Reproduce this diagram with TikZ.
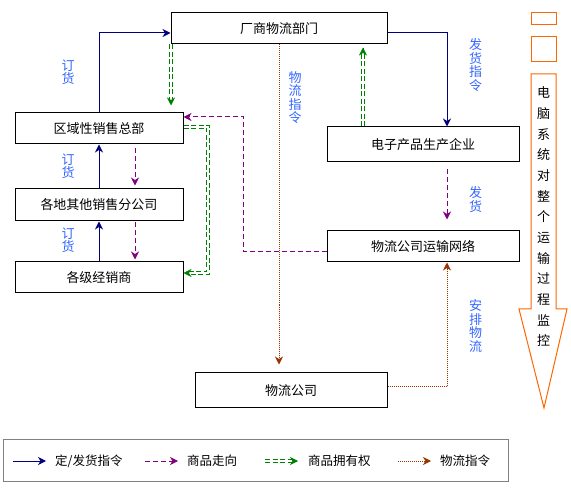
\documentclass[tikz,border=0pt]{standalone}
\usepackage{fontspec}
\setmainfont{Noto Sans CJK SC}
\usepackage{tikz}
\usetikzlibrary{arrows.meta,calc}
\usepackage{xcolor}
\definecolor{ordblue}{HTML}{000080}
\definecolor{goodpurple}{HTML}{800080}
\definecolor{owngreen}{HTML}{008000}
\definecolor{logibrown}{HTML}{993300}
\definecolor{labblue}{HTML}{3366FF}
\definecolor{monorange}{HTML}{FF6600}

\begin{document}
\begin{tikzpicture}[x=1pt,y=-1pt,
  box/.style={draw,line width=1pt,inner sep=0pt,font=\fontsize{13}{15}\selectfont},
  tag/.style={text=labblue,align=center,inner sep=0pt,font=\fontsize{13}{13.6}\selectfont},
  tip/.style={-{Stealth[length=8pt,width=8pt,inset=2.5pt]}},
  order/.style={tip,draw=ordblue,line width=1pt},
  goods/.style={tip,draw=goodpurple,line width=1pt,dash pattern=on 5pt off 3pt},
  ownline/.style={draw=owngreen,line width=0.9pt,dash pattern=on 5pt off 2.5pt},
  owntip/.style={tip,draw=owngreen,line width=0.9pt},
  logis/.style={tip,draw=logibrown,line width=1pt,dash pattern=on 1pt off 1pt}]
  \useasboundingbox (0,0) rectangle (571,497);
  % Boxes:
  \node[box,minimum width=216pt,minimum height=31pt] (hq) at (279,28.5) {厂商物流部门};
  \node[box,minimum width=168pt,minimum height=31pt] (region) at (99,128.5) {区域性销售总部};
  \node[box,minimum width=168pt,minimum height=32pt] (branch) at (99,205) {各地其他销售分公司};
  \node[box,minimum width=168pt,minimum height=31pt] (dealer) at (99,277.5) {各级经销商};
  \node[box,minimum width=192pt,minimum height=35pt] (maker) at (423,144.5) {电子产品生产企业};
  \node[box,minimum width=192pt,minimum height=31pt] (net) at (423,246.5) {物流公司运输网络};
  \node[box,minimum width=192pt,minimum height=35pt] (logi) at (291,390.5) {物流公司};
  %
  % Labels:
  \node[tag] (o1) at (68,72) {订\\货};
  \node[tag] (o2) at (68,166) {订\\货};
  \node[tag] (o3) at (68,240) {订\\货};
  \node[tag] (ld) at (295,97.5) {物\\流\\指\\令};
  \node[tag] (sd) at (475.5,65) {发\\货\\指\\令};
  \node[tag] (sh) at (475.5,199.5) {发\\货};
  \node[tag] (ar) at (475.5,326) {安\\排\\物\\流};
  %
  % Order Edges:
  \draw[order] (region.north) |- ([yshift=-4.5pt]hq.west);
  \draw[order] (branch.north) -- (region.south);
  \draw[order] (dealer.north) -- (branch.south);
  \draw[order] ([yshift=-4.5pt]hq.east) -| ([xshift=24pt]maker.north);
  % Goods Edges:
  \draw[goods,shorten <=4pt,shorten >=3pt] ([xshift=36pt]region.south) -- ([xshift=36pt]branch.north);
  \draw[goods,shorten <=1pt,shorten >=2pt] ([xshift=36pt]branch.south) -- ([xshift=36pt]dealer.north);
  \draw[goods,shorten <=7pt,shorten >=11pt] ([xshift=24pt]maker.south) -- ([xshift=24pt]net.north);
  \draw[goods] ([yshift=-5.5pt]net.west) -| ([xshift=60pt,yshift=11.5pt]region.east) -- ([yshift=11.5pt]region.east);
  % Ownership Edges (double dashed):
  \coordinate (g1) at ([xshift=0.5pt]hq.south west);
  \coordinate (g1t) at ([xshift=0.5pt,yshift=7pt]hq.south west |- region.north);
  \draw[ownline] ([xshift=-1.2pt]g1) -- ([xshift=-1.2pt,yshift=4pt]g1t);
  \draw[ownline] ([xshift=1.2pt]g1) -- ([xshift=1.2pt,yshift=4pt]g1t);
  \draw[owntip] ([yshift=1pt]g1t) -- (g1t);
  \draw[ownline] ([yshift=2.7pt]region.east) -| ([xshift=25.7pt,yshift=3.3pt]dealer.east) -- ([xshift=4pt,yshift=3.3pt]dealer.east);
  \draw[ownline] ([yshift=0.3pt]region.east) -| ([xshift=23.3pt,yshift=5.7pt]dealer.east) -- ([xshift=4pt,yshift=5.7pt]dealer.east);
  \draw[owntip] ([xshift=1pt,yshift=4.5pt]dealer.east) -- ([yshift=4.5pt]dealer.east);
  \coordinate (g3) at ([xshift=-60pt]maker.north);
  \coordinate (g3t) at ([xshift=-60pt,yshift=-3pt]maker.north |- hq.south);
  \draw[ownline] ([xshift=-1.2pt]g3) -- ([xshift=-1.2pt,yshift=-4pt]g3t);
  \draw[ownline] ([xshift=1.2pt]g3) -- ([xshift=1.2pt,yshift=-4pt]g3t);
  \draw[owntip] ([yshift=-1pt]g3t) -- (g3t);
  % Logistics Edges:
  \draw[logis,shorten >=8pt] (hq.south) -- (hq.south |- logi.north);
  \draw[logis] ([yshift=3.5pt]logi.east) -| ([xshift=24pt]net.south);
  %
  % Monitoring:
  \draw[monorange,line width=1pt] (531,13) rectangle (556,25);
  \draw[monorange,line width=1pt] (531,37) rectangle (556,62);
  \draw[monorange,line width=1pt] (531,74) -- (556,74) -- (556,309) -- (567,309) -- (544,408)
    -- (519,309) -- (531,309) -- cycle;
  \node[align=center,inner sep=0pt,font=\fontsize{13}{20.67}\selectfont] (mon) at (543.5,217)
    {电\\脑\\系\\统\\对\\整\\个\\运\\输\\过\\程\\监\\控};
  %
  % Legend:
  \draw[gray,line width=1pt] (3,439) rectangle (508,481);
  \node[anchor=west,inner sep=0pt,font=\fontsize{12.5}{14}\selectfont] (k1) at (55,461) {定/发货指令};
  \node[anchor=west,inner sep=0pt,font=\fontsize{12.5}{14}\selectfont] (k2) at (187,461) {商品走向};
  \node[anchor=west,inner sep=0pt,font=\fontsize{12.5}{14}\selectfont] (k3) at (308,461) {商品拥有权};
  \node[anchor=west,inner sep=0pt,font=\fontsize{12.5}{14}\selectfont] (k4) at (440,461) {物流指令};
  \draw[order] ([xshift=-42pt]k1.west) -- ([xshift=-9pt]k1.west);
  \draw[goods] ([xshift=-42pt]k2.west) -- ([xshift=-9pt]k2.west);
  \draw[ownline] ([xshift=-43pt,yshift=1.2pt]k3.west) -- ([xshift=-14pt,yshift=1.2pt]k3.west);
  \draw[ownline] ([xshift=-43pt,yshift=-1.2pt]k3.west) -- ([xshift=-14pt,yshift=-1.2pt]k3.west);
  \draw[owntip] ([xshift=-11pt]k3.west) -- ([xshift=-10pt]k3.west);
  \draw[logis] ([xshift=-42pt]k4.west) -- ([xshift=-9pt]k4.west);
\end{tikzpicture}
\end{document}
